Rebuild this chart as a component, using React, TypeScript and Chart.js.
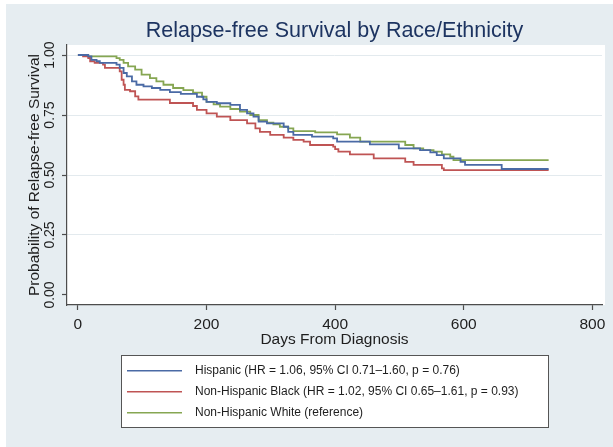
import React, { useEffect, useRef } from "react";
import { Chart, registerables } from "chart.js";

Chart.register(...registerables);

const chartTitle = "Relapse-free Survival by Race/Ethnicity";
const xAxisTitle = "Days From Diagnosis";
const yAxisTitle = "Probability of Relapse-free Survival";
const xTickValues = [0, 200, 400, 600, 800];
const yTickValues = [0, 0.25, 0.5, 0.75, 1];
const yTickLabels = ["0.00", "0.25", "0.50", "0.75", "1.00"];

const seriesNames = [
  "Hispanic (HR = 1.06, 95% CI 0.71–1.60, p = 0.76)",
  "Non-Hispanic Black (HR = 1.02, 95% CI 0.65–1.61, p = 0.93)",
  "Non-Hispanic White (reference)",
];
const seriesColors = ["#4a6aa5", "#bf5454", "#86a652"];

const hispanicDays = [0, 16, 21, 29, 34, 60, 65, 71, 76, 84, 91, 102, 115, 128, 143, 160, 185, 195, 200, 216, 237, 252, 263, 273, 281, 294, 320, 327, 335, 364, 397, 403, 454, 499, 532, 548, 558, 569, 595, 602, 659, 732];
const hispanicSurv = [1, 0.994, 0.98, 0.974, 0.967, 0.96, 0.946, 0.925, 0.911, 0.89, 0.876, 0.869, 0.8625, 0.855, 0.845, 0.838, 0.826, 0.815, 0.805, 0.799, 0.792, 0.771, 0.757, 0.743, 0.722, 0.715, 0.701, 0.68, 0.667, 0.66, 0.653, 0.639, 0.628, 0.611, 0.604, 0.594, 0.583, 0.569, 0.555, 0.542, 0.525, 0.525];

const blackDays = [0, 8, 16, 19, 26, 39, 42, 65, 68, 71, 73, 81, 89, 94, 143, 179, 185, 200, 216, 237, 263, 276, 283, 299, 320, 335, 351, 361, 397, 400, 405, 423, 460, 509, 522, 566, 569, 732];
const blackSurv = [1, 0.994, 0.9875, 0.974, 0.967, 0.96, 0.946, 0.932, 0.897, 0.876, 0.855, 0.849, 0.828, 0.814, 0.8, 0.7875, 0.771, 0.757, 0.743, 0.729, 0.715, 0.694, 0.68, 0.667, 0.656, 0.646, 0.639, 0.625, 0.618, 0.608, 0.597, 0.586, 0.569, 0.555, 0.542, 0.528, 0.52, 0.52];

const whiteDays = [0, 16, 60, 65, 71, 78, 89, 99, 112, 122, 133, 148, 164, 179, 193, 200, 211, 221, 237, 252, 268, 281, 294, 304, 314, 327, 335, 369, 403, 423, 439, 509, 522, 537, 553, 566, 579, 584, 732];
const whiteSurv = [1, 0.994, 0.987, 0.98, 0.967, 0.953, 0.939, 0.918, 0.904, 0.89, 0.876, 0.8625, 0.854, 0.843, 0.826, 0.805, 0.794, 0.785, 0.775, 0.764, 0.75, 0.729, 0.718, 0.711, 0.701, 0.694, 0.683, 0.678, 0.669, 0.656, 0.639, 0.625, 0.611, 0.604, 0.597, 0.586, 0.576, 0.562, 0.562];

const FONT = "'Liberation Sans', Arial, Helvetica, sans-serif";
const AXIS_COLOR = "#4d4d4d";
const TEXT_COLOR = "#1e1e1e";

function toPoints(days: number[], surv: number[]) {
  return days.map((d, i) => ({ x: d, y: surv[i] }));
}

export default function App() {
  const ref = useRef<HTMLCanvasElement>(null);

  useEffect(() => {
    document.body.style.margin = "0";
    const canvas = ref.current;
    if (!canvas) return;

    const decorPlugin = {
      id: "decor",
      beforeDraw(chart: any) {
        const { ctx, chartArea } = chart;
        ctx.save();
        ctx.fillStyle = "#ffffff";
        ctx.fillRect(0, 0, chart.width, chart.height);
        ctx.fillStyle = "#e6edf1";
        ctx.fillRect(6, 4, chart.width - 6, chart.height - 4);
        ctx.fillStyle = "#ffffff";
        ctx.fillRect(chartArea.left, chartArea.top, chartArea.right - chartArea.left + 3, chartArea.bottom - chartArea.top);
        ctx.restore();
      },
      afterDraw(chart: any) {
        const { ctx } = chart;
        const yScale = chart.scales.y;
        ctx.save();
        ctx.fillStyle = TEXT_COLOR;
        ctx.font = `14px ${FONT}`;
        ctx.textAlign = "center";
        ctx.textBaseline = "middle";
        yTickValues.forEach((v, i) => {
          const py = yScale.getPixelForValue(v);
          ctx.save();
          ctx.translate(50, py);
          ctx.rotate(-Math.PI / 2);
          ctx.fillText(yTickLabels[i], 0, 0);
          ctx.restore();
        });

        const bx = 121, by = 355, bw = 427, bh = 72;
        ctx.fillStyle = "#ffffff";
        ctx.fillRect(bx, by, bw, bh);
        ctx.strokeStyle = "#555555";
        ctx.lineWidth = 1;
        ctx.strokeRect(bx + 0.5, by + 0.5, bw, bh);
        ctx.font = `12px ${FONT}`;
        ctx.textAlign = "left";
        ctx.textBaseline = "middle";
        chart.data.datasets.forEach((ds: any, i: number) => {
          const ry = 370.7 + i * 21;
          ctx.strokeStyle = ds.borderColor;
          ctx.lineWidth = 1.5;
          ctx.beginPath();
          ctx.moveTo(127, ry);
          ctx.lineTo(182, ry);
          ctx.stroke();
          ctx.fillStyle = TEXT_COLOR;
          ctx.fillText(ds.label, 195, ry);
        });
        ctx.restore();
      },
    };

    const chart = new Chart(canvas, {
      type: "line",
      data: {
        datasets: [
          { label: seriesNames[0], data: toPoints(hispanicDays, hispanicSurv), borderColor: seriesColors[0], backgroundColor: seriesColors[0], borderWidth: 1.8, pointRadius: 0, stepped: true, fill: false },
          { label: seriesNames[1], data: toPoints(blackDays, blackSurv), borderColor: seriesColors[1], backgroundColor: seriesColors[1], borderWidth: 1.8, pointRadius: 0, stepped: true, fill: false },
          { label: seriesNames[2], data: toPoints(whiteDays, whiteSurv), borderColor: seriesColors[2], backgroundColor: seriesColors[2], borderWidth: 1.8, pointRadius: 0, stepped: true, fill: false },
        ],
      },
      options: {
        responsive: false,
        animation: false,
        events: [],
        layout: { padding: { top: 0, left: 0, right: 11, bottom: 97 } },
        plugins: {
          legend: { display: false },
          tooltip: { enabled: false },
          title: {
            display: true,
            text: chartTitle,
            fullSize: false,
            color: "#1d3461",
            font: { family: FONT, size: 21.5, weight: "normal" },
            padding: { top: 18.5, bottom: 0.7 },
          },
        },
        scales: {
          x: {
            type: "linear",
            min: -17,
            max: 815,
            afterBuildTicks: (s: any) => {
              s.ticks = xTickValues.map((v) => ({ value: v }));
            },
            afterFit: (s: any) => {
              s.height = 45;
              s.paddingLeft = 0;
              s.paddingRight = 0;
            },
            grid: { drawOnChartArea: false, drawTicks: true, tickLength: 5, tickColor: AXIS_COLOR, tickWidth: 1.2 },
            border: { color: AXIS_COLOR, width: 1.2 },
            ticks: { color: TEXT_COLOR, font: { family: FONT, size: 15.5 }, padding: 5.2, maxRotation: 0, minRotation: 0, callback: (v: any) => String(v) },
            title: { display: true, text: xAxisTitle, color: TEXT_COLOR, font: { family: FONT, size: 15.5 }, padding: { top: 0, bottom: 0.7 } },
          },
          y: {
            type: "linear",
            min: -0.0417,
            max: 1.0417,
            afterBuildTicks: (s: any) => {
              s.ticks = yTickValues.map((v) => ({ value: v }));
            },
            afterFit: (s: any) => {
              s.width = 67;
              s.paddingTop = 0;
              s.paddingBottom = 0;
            },
            grid: {
              color: (c: any) => (c.tick && c.tick.value === 0 ? "rgba(0,0,0,0)" : "#e3eaee"),
              lineWidth: 1,
              drawTicks: true,
              tickLength: 5,
              tickColor: AXIS_COLOR,
              tickWidth: 1.2,
            },
            border: { color: AXIS_COLOR, width: 1.2 },
            ticks: { display: false },
            title: { display: true, text: yAxisTitle, color: TEXT_COLOR, font: { family: FONT, size: 15.5 }, padding: { top: 25, bottom: 0 } },
          },
        },
      },
      plugins: [decorPlugin],
    });

    return () => chart.destroy();
  }, []);

  return <canvas ref={ref} width={613} height={447} style={{ display: "block" }} />;
}
